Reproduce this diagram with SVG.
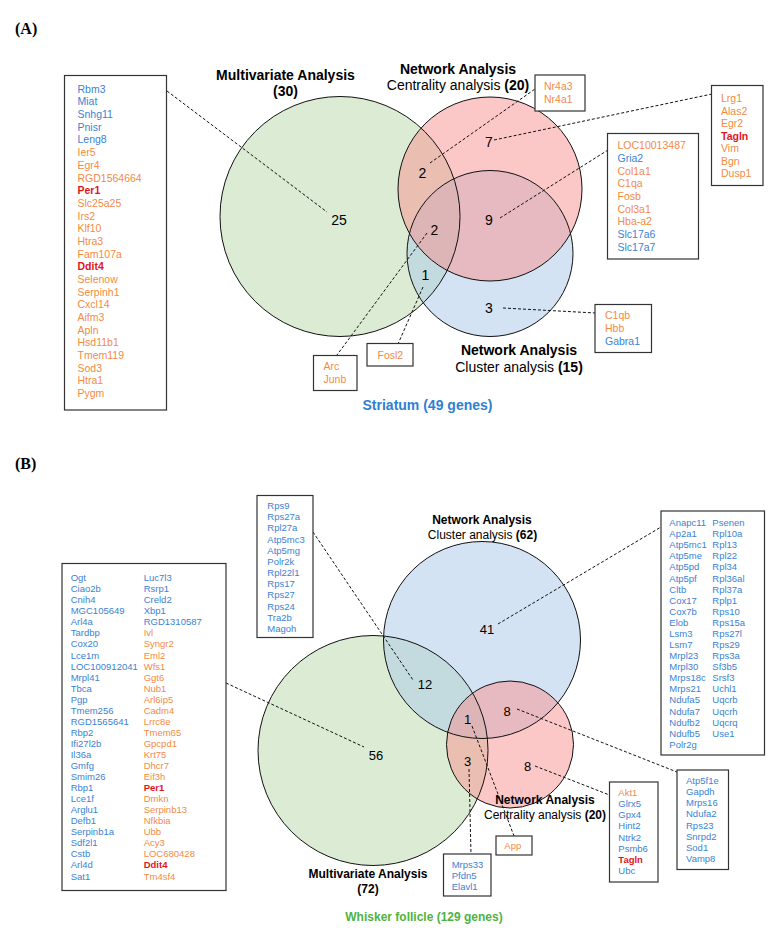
<svg xmlns="http://www.w3.org/2000/svg" width="782" height="934" viewBox="0 0 782 934">
<style>
text{font-family:"Liberation Sans",Arial,sans-serif;fill:#000}
.pl{font-family:"Liberation Serif","Times New Roman",serif;font-weight:bold;font-size:16px}
.ga{font-size:10.5px}
.gb{font-size:9.5px}
.b{fill:#3b82d4}
.o{fill:#f58a45}
.r{fill:#e3141c;font-weight:bold}
.box{fill:#fff;stroke:#333;stroke-width:1.2}
.cg{fill:#dcecd4;stroke:none}
.cb{fill:#a9c7e7;fill-opacity:0.5;stroke:none}
.cp{fill:#f98f8f;fill-opacity:0.5;stroke:none}
.cs{fill:none;stroke:#111;stroke-width:1}
.conn line{stroke:#111;stroke-width:1;stroke-dasharray:3 2}
.ta{font-size:14px;text-anchor:middle}
.tb{font-size:12px;text-anchor:middle}
.bd{font-weight:bold}
.na{font-size:14px;text-anchor:middle}
.nb{font-size:13px;text-anchor:middle}
</style>
<rect width="782" height="934" fill="#fff"/>
<text class="pl" x="15" y="34">(A)</text>
<text class="pl" x="15" y="469">(B)</text>

<!-- Panel A Venn -->
<g id="vennA">
<circle class="cg" cx="340" cy="216.5" r="120"/>
<circle class="cb" cx="490" cy="253.5" r="83"/>
<circle class="cp" cx="490" cy="189" r="92"/>
<circle class="cs" cx="340" cy="216.5" r="120"/>
<circle class="cs" cx="490" cy="253.5" r="83"/>
<circle class="cs" cx="490" cy="189" r="92"/>
<text class="na" x="339" y="225">25</text>
<text class="na" x="422.5" y="178">2</text>
<text class="na" x="489" y="146.5">7</text>
<text class="na" x="489" y="225">9</text>
<text class="na" x="434.5" y="235">2</text>
<text class="na" x="425.5" y="280">1</text>
<text class="na" x="489" y="313">3</text>
</g>
<g id="titlesA">
<text class="ta bd" x="285.5" y="79.5">Multivariate Analysis</text>
<text class="ta bd" x="285.5" y="96">(30)</text>
<text class="ta bd" x="458" y="73.7">Network Analysis</text>
<text class="ta" x="458" y="90.4">Centrality analysis <tspan class="bd">(20)</tspan></text>
<text class="ta bd" x="519" y="355">Network Analysis</text>
<text class="ta" x="519" y="371.7">Cluster analysis <tspan class="bd">(15)</tspan></text>
<text class="ta bd" x="427.5" y="410" style="fill:#2f7fd3">Striatum (49 genes)</text>
</g>

<g class="conn" id="connectorsA">
<line x1="167" y1="91" x2="327" y2="212"/>
<line x1="430" y1="163" x2="535" y2="89"/>
<line x1="494" y1="140" x2="712" y2="94"/>
<line x1="500" y1="218" x2="608" y2="150"/>
<line x1="503" y1="308" x2="595.5" y2="313"/>
<line x1="423" y1="287" x2="398" y2="344"/>
<line x1="427" y1="233" x2="337" y2="355"/>
</g>

<g id="boxA-multi">
<rect class="box" x="64.5" y="75.5" width="102" height="334.5"/>
<text class="ga">
<tspan class="b" x="77.5" y="92.7">Rbm3</tspan>
<tspan class="b" x="77.5" y="105.4">Miat</tspan>
<tspan class="b" x="77.5" y="118.1">Snhg11</tspan>
<tspan class="b" x="77.5" y="130.7">Pnisr</tspan>
<tspan class="b" x="77.5" y="143.4">Leng8</tspan>
<tspan class="o" x="77.5" y="156.1">Ier5</tspan>
<tspan class="o" x="77.5" y="168.8">Egr4</tspan>
<tspan class="o" x="77.5" y="181.5">RGD1564664</tspan>
<tspan class="r" x="77.5" y="194.1">Per1</tspan>
<tspan class="o" x="77.5" y="206.8">Slc25a25</tspan>
<tspan class="o" x="77.5" y="219.5">Irs2</tspan>
<tspan class="o" x="77.5" y="232.2">Klf10</tspan>
<tspan class="o" x="77.5" y="244.9">Htra3</tspan>
<tspan class="o" x="77.5" y="257.5">Fam107a</tspan>
<tspan class="r" x="77.5" y="270.2">Ddit4</tspan>
<tspan class="o" x="77.5" y="282.9">Selenow</tspan>
<tspan class="o" x="77.5" y="295.6">Serpinh1</tspan>
<tspan class="o" x="77.5" y="308.3">Cxcl14</tspan>
<tspan class="o" x="77.5" y="320.9">Aifm3</tspan>
<tspan class="o" x="77.5" y="333.6">Apln</tspan>
<tspan class="o" x="77.5" y="346.3">Hsd11b1</tspan>
<tspan class="o" x="77.5" y="359.0">Tmem119</tspan>
<tspan class="o" x="77.5" y="371.7">Sod3</tspan>
<tspan class="o" x="77.5" y="384.3">Htra1</tspan>
<tspan class="o" x="77.5" y="397.0">Pygm</tspan>
</text>
</g>

<g id="boxA-nr4a">
<rect class="box" x="535" y="75" width="50" height="36"/>
<text class="ga"><tspan class="o" x="544" y="90.4">Nr4a3</tspan><tspan class="o" x="544" y="103.4">Nr4a1</tspan></text>
</g>

<g id="boxA-lrg1">
<rect class="box" x="711.5" y="85.5" width="51.5" height="100"/>
<text class="ga">
<tspan class="o" x="721" y="102">Lrg1</tspan>
<tspan class="o" x="721" y="114.5">Alas2</tspan>
<tspan class="o" x="721" y="127">Egr2</tspan>
<tspan class="r" x="721" y="139.5">Tagln</tspan>
<tspan class="o" x="721" y="152">Vim</tspan>
<tspan class="o" x="721" y="164.5">Bgn</tspan>
<tspan class="o" x="721" y="177">Dusp1</tspan>
</text>
</g>

<g id="boxA-loc">
<rect class="box" x="607.5" y="133.5" width="91" height="125.5"/>
<text class="ga">
<tspan class="o" x="617.5" y="149.4">LOC10013487</tspan>
<tspan class="b" x="617.5" y="162">Gria2</tspan>
<tspan class="o" x="617.5" y="174.7">Col1a1</tspan>
<tspan class="o" x="617.5" y="187.3">C1qa</tspan>
<tspan class="o" x="617.5" y="200">Fosb</tspan>
<tspan class="o" x="617.5" y="212.6">Col3a1</tspan>
<tspan class="o" x="617.5" y="225.3">Hba-a2</tspan>
<tspan class="b" x="617.5" y="237.9">Slc17a6</tspan>
<tspan class="b" x="617.5" y="250.6">Slc17a7</tspan>
</text>
</g>

<g id="boxA-c1qb">
<rect class="box" x="595" y="304.5" width="56.5" height="48"/>
<text class="ga">
<tspan class="o" x="605" y="319.4">C1qb</tspan>
<tspan class="o" x="605" y="332">Hbb</tspan>
<tspan class="b" x="605" y="344.7">Gabra1</tspan>
</text>
</g>

<g id="boxA-fosl2">
<rect class="box" x="367" y="343.5" width="46" height="22.5"/>
<text class="ga"><tspan class="o" x="377.5" y="358.7">Fosl2</tspan></text>
</g>

<g id="boxA-arc">
<rect class="box" x="313.5" y="355.5" width="43.5" height="35"/>
<text class="ga"><tspan class="o" x="323.5" y="370.4">Arc</tspan><tspan class="o" x="323.5" y="383">Junb</tspan></text>
</g>

<!-- Panel B Venn -->
<g id="vennB">
<circle class="cg" cx="373" cy="750.5" r="115"/>
<circle class="cb" cx="482" cy="640" r="98.5"/>
<circle class="cp" cx="510" cy="744.5" r="63.5"/>
<circle class="cs" cx="482" cy="640" r="98.5"/>
<circle class="cs" cx="373" cy="750.5" r="115"/>
<circle class="cs" cx="510" cy="744.5" r="63.5"/>
<text class="nb" x="487" y="633.5">41</text>
<text class="nb" x="425" y="689">12</text>
<text class="nb" x="467.5" y="724">1</text>
<text class="nb" x="507" y="715.5">8</text>
<text class="nb" x="467.5" y="765.5">3</text>
<text class="nb" x="527.5" y="770.5">8</text>
<text class="nb" x="376" y="759.5">56</text>
</g>
<g id="titlesB">
<text class="tb bd" x="482" y="524">Network Analysis</text>
<text class="tb" x="482.5" y="538.5">Cluster analysis <tspan class="bd">(62)</tspan></text>
<text class="tb bd" x="545" y="804">Network Analysis</text>
<text class="tb" x="545" y="818.5">Centrality analysis <tspan class="bd">(20)</tspan></text>
<text class="tb bd" x="368" y="878">Multivariate Analysis</text>
<text class="tb bd" x="368" y="893">(72)</text>
<text class="tb bd" x="424" y="921" style="fill:#4fb33f">Whisker follicle (129 genes)</text>
</g>

<g class="conn" id="connectorsB">
<line x1="226" y1="683" x2="364" y2="747"/>
<line x1="313" y1="532" x2="413" y2="680"/>
<line x1="498" y1="624" x2="661" y2="527"/>
<line x1="517" y1="709" x2="677" y2="772"/>
<line x1="535" y1="766" x2="609.5" y2="795"/>
<line x1="472" y1="726" x2="514" y2="836"/>
<line x1="469" y1="769" x2="471" y2="854"/>
</g>

<g id="boxB-multi">
<rect class="box" x="62" y="563.5" width="164" height="327"/>
<text class="gb">
<tspan class="b" x="70.7" y="581.1">Ogt</tspan>
<tspan class="b" x="70.7" y="592.2">Ciao2b</tspan>
<tspan class="b" x="70.7" y="603.2">Cnih4</tspan>
<tspan class="b" x="70.7" y="614.3">MGC105649</tspan>
<tspan class="b" x="70.7" y="625.3">Arl4a</tspan>
<tspan class="b" x="70.7" y="636.4">Tardbp</tspan>
<tspan class="b" x="70.7" y="647.4">Cox20</tspan>
<tspan class="b" x="70.7" y="658.5">Lce1m</tspan>
<tspan class="b" x="70.7" y="669.5">LOC100912041</tspan>
<tspan class="b" x="70.7" y="680.6">Mrpl41</tspan>
<tspan class="b" x="70.7" y="691.6">Tbca</tspan>
<tspan class="b" x="70.7" y="702.7">Pgp</tspan>
<tspan class="b" x="70.7" y="713.7">Tmem256</tspan>
<tspan class="b" x="70.7" y="724.8">RGD1565641</tspan>
<tspan class="b" x="70.7" y="735.8">Rbp2</tspan>
<tspan class="b" x="70.7" y="746.9">Ifi27l2b</tspan>
<tspan class="b" x="70.7" y="757.9">Il36a</tspan>
<tspan class="b" x="70.7" y="769.0">Gmfg</tspan>
<tspan class="b" x="70.7" y="780.0">Smim26</tspan>
<tspan class="b" x="70.7" y="791.1">Rbp1</tspan>
<tspan class="b" x="70.7" y="802.1">Lce1f</tspan>
<tspan class="b" x="70.7" y="813.2">Arglu1</tspan>
<tspan class="b" x="70.7" y="824.2">Defb1</tspan>
<tspan class="b" x="70.7" y="835.3">Serpinb1a</tspan>
<tspan class="b" x="70.7" y="846.3">Sdf2l1</tspan>
<tspan class="b" x="70.7" y="857.4">Cstb</tspan>
<tspan class="b" x="70.7" y="868.4">Arl4d</tspan>
<tspan class="b" x="70.7" y="879.5">Sat1</tspan>
</text>
<text class="gb">
<tspan class="b" x="143.7" y="581.1">Luc7l3</tspan>
<tspan class="b" x="143.7" y="592.2">Rsrp1</tspan>
<tspan class="b" x="143.7" y="603.2">Creld2</tspan>
<tspan class="b" x="143.7" y="614.3">Xbp1</tspan>
<tspan class="b" x="143.7" y="625.3">RGD1310587</tspan>
<tspan class="o" x="143.7" y="636.4">Ivl</tspan>
<tspan class="o" x="143.7" y="647.4">Syngr2</tspan>
<tspan class="o" x="143.7" y="658.5">Eml2</tspan>
<tspan class="o" x="143.7" y="669.5">Wfs1</tspan>
<tspan class="o" x="143.7" y="680.6">Ggt6</tspan>
<tspan class="o" x="143.7" y="691.6">Nub1</tspan>
<tspan class="o" x="143.7" y="702.7">Arl6ip5</tspan>
<tspan class="o" x="143.7" y="713.7">Cadm4</tspan>
<tspan class="o" x="143.7" y="724.8">Lrrc8e</tspan>
<tspan class="o" x="143.7" y="735.8">Tmem65</tspan>
<tspan class="o" x="143.7" y="746.9">Gpcpd1</tspan>
<tspan class="o" x="143.7" y="757.9">Krt75</tspan>
<tspan class="o" x="143.7" y="769.0">Dhcr7</tspan>
<tspan class="o" x="143.7" y="780.0">Eif3h</tspan>
<tspan class="r" x="143.7" y="791.1">Per1</tspan>
<tspan class="o" x="143.7" y="802.1">Dmkn</tspan>
<tspan class="o" x="143.7" y="813.2">Serpinb13</tspan>
<tspan class="o" x="143.7" y="824.2">Nfkbia</tspan>
<tspan class="o" x="143.7" y="835.3">Ubb</tspan>
<tspan class="o" x="143.7" y="846.3">Acy3</tspan>
<tspan class="o" x="143.7" y="857.4">LOC680428</tspan>
<tspan class="r" x="143.7" y="868.4">Ddit4</tspan>
<tspan class="o" x="143.7" y="879.5">Tm4sf4</tspan>
</text>
</g>

<g id="boxB-rps">
<rect class="box" x="257" y="495.5" width="56" height="142"/>
<text class="gb">
<tspan class="b" x="267.3" y="509.1">Rps9</tspan>
<tspan class="b" x="267.3" y="520.3">Rps27a</tspan>
<tspan class="b" x="267.3" y="531.4">Rpl27a</tspan>
<tspan class="b" x="267.3" y="542.6">Atp5mc3</tspan>
<tspan class="b" x="267.3" y="553.7">Atp5mg</tspan>
<tspan class="b" x="267.3" y="564.9">Polr2k</tspan>
<tspan class="b" x="267.3" y="576.0">Rpl22l1</tspan>
<tspan class="b" x="267.3" y="587.2">Rps17</tspan>
<tspan class="b" x="267.3" y="598.3">Rps27</tspan>
<tspan class="b" x="267.3" y="609.5">Rps24</tspan>
<tspan class="b" x="267.3" y="620.6">Tra2b</tspan>
<tspan class="b" x="267.3" y="631.8">Magoh</tspan>
</text>
</g>

<g id="boxB-cluster">
<rect class="box" x="661" y="511" width="103.5" height="244"/>
<text class="gb">
<tspan class="b" x="669.3" y="526.1">Anapc11</tspan>
<tspan class="b" x="669.3" y="537.2">Ap2a1</tspan>
<tspan class="b" x="669.3" y="548.3">Atp5mc1</tspan>
<tspan class="b" x="669.3" y="559.3">Atp5me</tspan>
<tspan class="b" x="669.3" y="570.4">Atp5pd</tspan>
<tspan class="b" x="669.3" y="581.5">Atp5pf</tspan>
<tspan class="b" x="669.3" y="592.6">Cltb</tspan>
<tspan class="b" x="669.3" y="603.7">Cox17</tspan>
<tspan class="b" x="669.3" y="614.7">Cox7b</tspan>
<tspan class="b" x="669.3" y="625.8">Elob</tspan>
<tspan class="b" x="669.3" y="636.9">Lsm3</tspan>
<tspan class="b" x="669.3" y="648.0">Lsm7</tspan>
<tspan class="b" x="669.3" y="659.1">Mrpl23</tspan>
<tspan class="b" x="669.3" y="670.1">Mrpl30</tspan>
<tspan class="b" x="669.3" y="681.2">Mrps18c</tspan>
<tspan class="b" x="669.3" y="692.3">Mrps21</tspan>
<tspan class="b" x="669.3" y="703.4">Ndufa5</tspan>
<tspan class="b" x="669.3" y="714.5">Ndufa7</tspan>
<tspan class="b" x="669.3" y="725.5">Ndufb2</tspan>
<tspan class="b" x="669.3" y="736.6">Ndufb5</tspan>
<tspan class="b" x="669.3" y="747.7">Polr2g</tspan>
</text>
<text class="gb">
<tspan class="b" x="712.3" y="526.1">Psenen</tspan>
<tspan class="b" x="712.3" y="537.2">Rpl10a</tspan>
<tspan class="b" x="712.3" y="548.3">Rpl13</tspan>
<tspan class="b" x="712.3" y="559.3">Rpl22</tspan>
<tspan class="b" x="712.3" y="570.4">Rpl34</tspan>
<tspan class="b" x="712.3" y="581.5">Rpl36al</tspan>
<tspan class="b" x="712.3" y="592.6">Rpl37a</tspan>
<tspan class="b" x="712.3" y="603.7">Rplp1</tspan>
<tspan class="b" x="712.3" y="614.7">Rps10</tspan>
<tspan class="b" x="712.3" y="625.8">Rps15a</tspan>
<tspan class="b" x="712.3" y="636.9">Rps27l</tspan>
<tspan class="b" x="712.3" y="648.0">Rps29</tspan>
<tspan class="b" x="712.3" y="659.1">Rps3a</tspan>
<tspan class="b" x="712.3" y="670.1">Sf3b5</tspan>
<tspan class="b" x="712.3" y="681.2">Srsf3</tspan>
<tspan class="b" x="712.3" y="692.3">Uchl1</tspan>
<tspan class="b" x="712.3" y="703.4">Uqcrb</tspan>
<tspan class="b" x="712.3" y="714.5">Uqcrh</tspan>
<tspan class="b" x="712.3" y="725.5">Uqcrq</tspan>
<tspan class="b" x="712.3" y="736.6">Use1</tspan>
</text>
</g>

<g id="boxB-atp5f1e">
<rect class="box" x="677" y="770" width="51.5" height="99.5"/>
<text class="gb">
<tspan class="b" x="686" y="784.1">Atp5f1e</tspan>
<tspan class="b" x="686" y="795.2">Gapdh</tspan>
<tspan class="b" x="686" y="806.3">Mrps16</tspan>
<tspan class="b" x="686" y="817.4">Ndufa2</tspan>
<tspan class="b" x="686" y="828.5">Rps23</tspan>
<tspan class="b" x="686" y="839.6">Snrpd2</tspan>
<tspan class="b" x="686" y="850.7">Sod1</tspan>
<tspan class="b" x="686" y="861.8">Vamp8</tspan>
</text>
</g>

<g id="boxB-akt1">
<rect class="box" x="609.5" y="782" width="48.5" height="100"/>
<text class="gb">
<tspan class="o" x="618.3" y="796.1">Akt1</tspan>
<tspan class="b" x="618.3" y="807.2">Glrx5</tspan>
<tspan class="b" x="618.3" y="818.3">Gpx4</tspan>
<tspan class="b" x="618.3" y="829.4">Hint2</tspan>
<tspan class="b" x="618.3" y="840.5">Ntrk2</tspan>
<tspan class="b" x="618.3" y="851.6">Psmb6</tspan>
<tspan class="r" x="618.3" y="862.7">Tagln</tspan>
<tspan class="b" x="618.3" y="873.8">Ubc</tspan>
</text>
</g>

<g id="boxB-app">
<rect class="box" x="496" y="836" width="36" height="19"/>
<text class="gb"><tspan class="o" x="504.3" y="849.1">App</tspan></text>
</g>

<g id="boxB-mrps33">
<rect class="box" x="443.5" y="854" width="47.5" height="42"/>
<text class="gb">
<tspan class="b" x="451.7" y="867.7">Mrps33</tspan>
<tspan class="b" x="451.7" y="878.9">Pfdn5</tspan>
<tspan class="b" x="451.7" y="890.1">Elavl1</tspan>
</text>
</g>
</svg>
